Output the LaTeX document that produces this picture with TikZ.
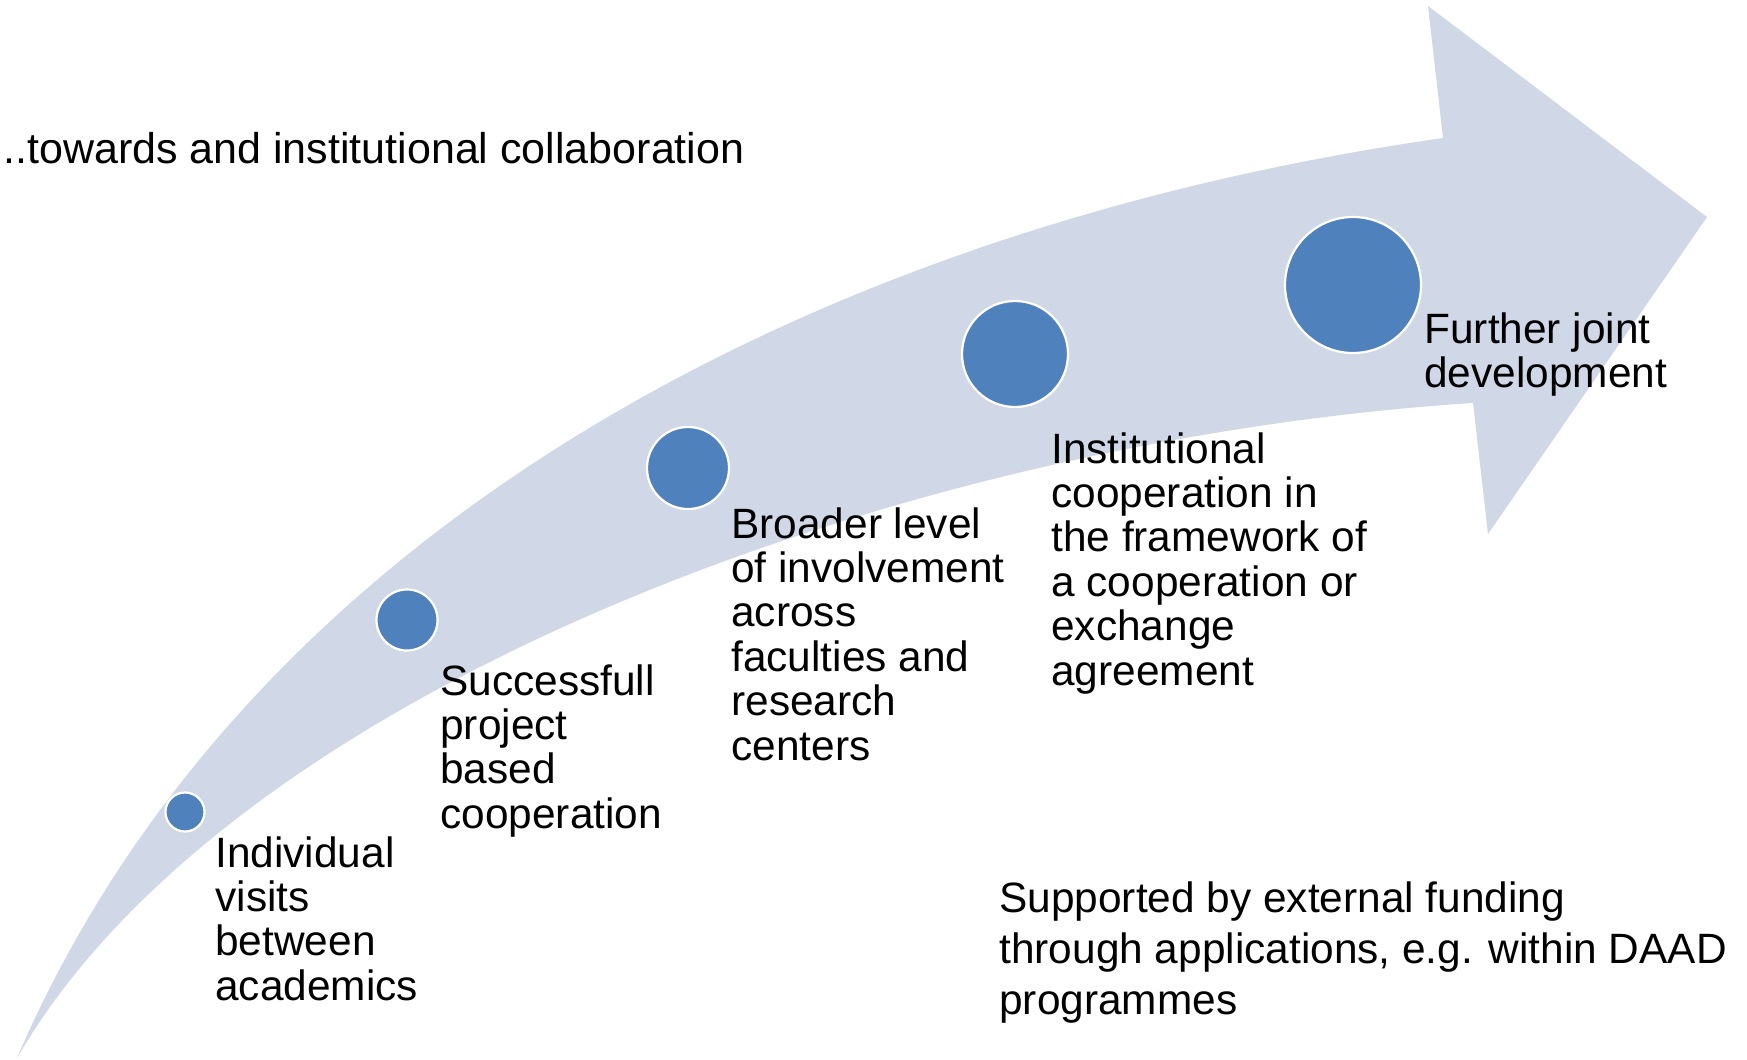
\documentclass[tikz,border=0pt]{standalone}
\usepackage{fontspec}
\setmainfont{Liberation Sans}
\definecolor{arrowfill}{RGB}{208,216,232}
\definecolor{dotfill}{RGB}{79,129,189}
\newcommand{\lines}[1]{\begin{tabular}[t]{@{}l@{}}#1\end{tabular}}
\begin{document}
\begin{tikzpicture}[x=0.5pt,y=-0.5pt,
  lbl/.style={anchor=base west, inner sep=0pt, font=\fontsize{21.2pt}{22.2pt}\selectfont},
  dot/.style={circle, fill=dotfill, draw=white, line width=1.1pt, inner sep=0pt}]
\useasboundingbox[fill=white] (0,0) rectangle (1747,1060);
% curved arrow
\fill[arrowfill] (17,1058) .. controls (240,540) and (800,230) .. (1443,138)
  -- (1428,6) -- (1707,217) -- (1488,534) -- (1473,403)
  .. controls (900,440) and (230,690) .. (17,1058) -- cycle;
% dots
\node[dot, minimum size=19.5pt] (c1) at (185,812) {};
\node[dot, minimum size=30.5pt] (c2) at (407,620) {};
\node[dot, minimum size=41pt] (c3) at (688,468) {};
\node[dot, minimum size=53pt] (c4) at (1015,354) {};
\node[dot, minimum size=68pt] (c5) at (1353,285) {};
% texts
\node[lbl, font=\fontsize{21.5pt}{22.2pt}\selectfont] (title) at (3,163) {..towards and institutional collaboration};
\node[lbl] (l1) at (215,867) {\lines{Individual\\visits\\between\\academics}};
\node[lbl] (l2) at (440,695) {\lines{Successfull\\project\\based\\cooperation}};
\node[lbl] (l3) at (731,538) {\lines{Broader level\\of involvement\\across\\faculties and\\research\\centers}};
\node[lbl] (l4) at (1051,463) {\lines{Institutional\\cooperation in\\the framework of\\a cooperation or\\exchange\\agreement}};
\node[lbl] (l5) at (1424,343) {\lines{Further joint\\development}};
\node[lbl, font=\fontsize{21.2pt}{25.5pt}\selectfont] (l6) at (999,912) {\lines{Supported by external funding\\through applications, e.g. within DAAD\\programmes}};
\end{tikzpicture}
\end{document}
